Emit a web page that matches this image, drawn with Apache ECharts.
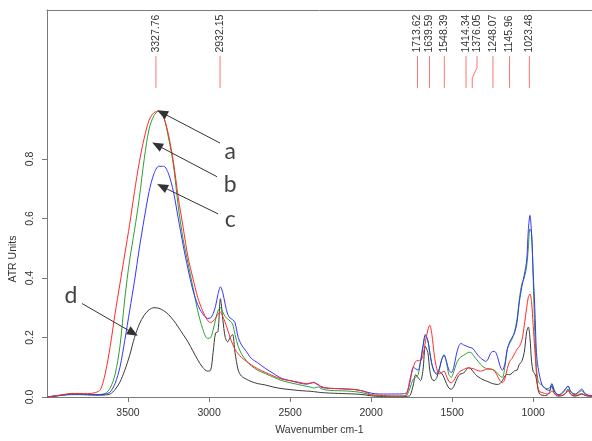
<!DOCTYPE html>
<html><head><meta charset="utf-8">
<script src="https://cdn.jsdelivr.net/npm/echarts@6/dist/echarts.min.js"></script>
<style>html,body{margin:0;padding:0;background:#fff}#c{width:592px;height:441px}</style>
</head><body><div id="c"></div>
<script>
// ---- data ----
const wavenumbers = [
  4000,3950,3900,3850,3800,3750,3700,3670,3640,3610,3580,3550,3520,3490,3460,3430,3400,3370,3340,3310,3280,3250,3220,3190,3160,3130,3100,3070,3040,3010,
  2990,2975,2960,2945,2930,2915,2900,2885,2870,2855,2840,2820,2800,2770,2740,2700,2650,2600,2550,2500,2450,2400,2370,2355,2340,2325,2310,2280,2250,2200,2150,2100,2050,2000,
  1950,1900,1850,1800,1780,1760,1740,1725,1710,1695,1680,1665,1650,1638,1625,1610,1595,1580,1565,1550,1535,1520,1505,1490,1475,1460,1445,1430,1415,1400,1385,1370,1355,1340,1325,1310,1295,1280,1265,1250,1235,1220,1205,1190,1175,1160,1145,1130,1115,1100,1085,1070,1055,1040,1030,1020,1010,
  1000,990,980,970,960,945,930,915,900,885,870,855,840,820,800,785,770,755,740,720,700,680,660,640,620,600
];
const seriesA = [
  0,.004,.008,.012,.012,.011,.015,.025,.08,.17,.28,.38,.48,.58,.69,.79,.87,.93,.955,.96,.94,.88,.79,.67,.57,.47,.40,.335,.29,.258,
  .25,.255,.265,.278,.285,.27,.25,.225,.2,.178,.16,.145,.133,.12,.108,.095,.082,.07,.06,.055,.05,.045,.047,.048,.045,.042,.036,.031,.029,.028,.026,.025,.02,.008,
  .006,.004,.003,.004,.01,.06,.1,.12,.122,.122,.14,.185,.225,.241,.21,.14,.095,.078,.082,.087,.07,.052,.048,.055,.07,.082,.088,.092,.096,.098,.097,.095,.092,.088,.087,.089,.092,.094,.094,.092,.085,.07,.055,.048,.06,.095,.12,.13,.145,.16,.17,.19,.24,.3,.335,.346,.32,
  .24,.16,.08,.03,.018,.015,.012,.01,.012,.02,.012,.008,.005,.006,.012,.021,.012,.006,.005,.008,.012,.006,.004,.003,.004,.003
];
const seriesB = [
  0,.004,.007,.01,.01,.009,.008,.009,.012,.03,.076,.17,.33,.46,.56,.67,.80,.9,.945,.96,.94,.87,.78,.64,.53,.45,.37,.29,.23,.197,
  .2,.225,.26,.29,.30,.285,.27,.262,.255,.245,.21,.17,.145,.122,.105,.09,.078,.066,.055,.048,.042,.036,.033,.03,.032,.034,.028,.024,.022,.021,.02,.018,.014,.006,
  .004,.003,.003,.003,.006,.03,.06,.066,.075,.12,.17,.205,.19,.15,.11,.085,.08,.095,.125,.14,.115,.075,.066,.085,.11,.127,.135,.14,.145,.15,.15,.14,.13,.12,.11,.102,.097,.095,.094,.092,.088,.08,.07,.066,.1,.16,.18,.195,.22,.26,.33,.38,.40,.44,.5,.565,.55,
  .4,.22,.1,.055,.045,.04,.032,.028,.03,.043,.025,.01,.008,.012,.025,.037,.02,.01,.008,.015,.021,.01,.006,.005,.004,.003
];
const seriesC = [
  0,.003,.007,.01,.01,.009,.008,.008,.01,.017,.045,.1,.19,.29,.39,.5,.6,.69,.75,.775,.775,.75,.69,.6,.51,.43,.36,.31,.28,.264,
  .266,.28,.305,.345,.37,.35,.31,.278,.265,.26,.25,.2,.175,.153,.13,.115,.095,.078,.062,.055,.048,.043,.047,.05,.045,.04,.033,.03,.029,.028,.027,.025,.02,.013,
  .01,.01,.01,.011,.015,.05,.1,.095,.09,.12,.17,.21,.19,.15,.11,.085,.076,.09,.125,.142,.12,.09,.082,.1,.14,.17,.18,.175,.172,.168,.166,.162,.15,.14,.131,.125,.12,.125,.145,.153,.152,.135,.105,.09,.11,.16,.185,.2,.215,.25,.32,.37,.41,.46,.56,.61,.55,
  .42,.3,.15,.1,.07,.04,.03,.024,.022,.045,.02,.01,.008,.015,.028,.037,.02,.012,.01,.018,.026,.012,.006,.005,.004,.003
];
const seriesD = [
  0,.003,.006,.008,.008,.007,.006,.006,.007,.01,.025,.05,.09,.14,.2,.245,.275,.293,.3,.298,.29,.277,.258,.235,.21,.185,.155,.125,.1,.087,
  .09,.15,.215,.22,.33,.26,.2,.185,.2,.21,.15,.09,.07,.06,.052,.045,.04,.033,.028,.025,.022,.02,.019,.018,.017,.016,.015,.014,.013,.012,.011,.01,.008,.004,
  .002,.001,.001,.001,.002,.005,.04,.075,.065,.055,.09,.17,.15,.09,.06,.055,.065,.085,.08,.065,.045,.03,.026,.035,.055,.072,.078,.08,.09,.098,.095,.085,.075,.068,.063,.058,.055,.052,.048,.045,.043,.042,.045,.055,.07,.076,.075,.08,.088,.09,.11,.12,.15,.22,.235,.2,.12,
  .085,.078,.06,.025,.01,.006,.005,.006,.015,.037,.012,.004,.003,.005,.012,.026,.01,.004,.003,.006,.01,.005,.003,.002,.002,.002
];
const peakPositions = [3327.76, 2932.15, 1713.62, 1639.59, 1548.39, 1414.34, 1376.05, 1248.07, 1145.96, 1023.48];
const peakLabels = ['3327.76','2932.15','1713.62','1639.59','1548.39','1414.34','1376.05','1248.07','1145.96','1023.48'];
const xTicks = [3500, 3000, 2500, 2000, 1500, 1000];
const yTicks = [0, 0.2, 0.4, 0.6, 0.8];
const annotNames = ['a', 'b', 'c', 'd'];
const arrowTips = [[3290, 0.955], [3321, 0.846], [3290, 0.707], [3469, 0.215]];
const arrowTails = [[2932, 0.853], [2951, 0.74], [2944, 0.615], [3784, 0.314]];
const annotPos = [[2870, 0.826], [2870, 0.714], [2870, 0.595], [3852, 0.34]];

// ---- chart ----
const FONT = '"Liberation Sans", Arial, sans-serif';
const FRAME = '#7a7a7a';
const chart = echarts.init(document.getElementById('c'), null, {renderer: 'canvas'});
const pair = vals => wavenumbers.map((w, i) => [w, vals[i]]);
const lineSeries = (name, vals, color, extra) => Object.assign({
  type: 'line', name, data: pair(vals), symbol: 'none', showSymbol: false, smooth: 0.3,
  lineStyle: {color, width: 1}, itemStyle: {color}, silent: true, z: 3
}, extra || {});

const option = {
  animation: false,
  grid: {left: 47, top: 10, right: 0, bottom: 38},
  xAxis: [{
    type: 'value', min: 637, max: 4000, inverse: true, position: 'bottom',
    axisLine: {show: true, onZero: false, lineStyle: {color: FRAME, width: 1}}, splitLine: {show: false},
    axisTick: {show: true, customValues: xTicks, length: 5, lineStyle: {color: FRAME}},
    axisLabel: {customValues: xTicks, margin: 11, color: '#333', fontFamily: FONT, fontSize: 10.5, formatter: v => String(v)},
    name: 'Wavenumber cm-1', nameLocation: 'middle', nameGap: 28,
    nameTextStyle: {color: '#333', fontFamily: FONT, fontSize: 10.5}
  }, {
    type: 'value', min: 637, max: 4000, inverse: true, position: 'top',
    axisLine: {show: true, onZero: false, lineStyle: {color: FRAME, width: 1}},
    axisTick: {show: false}, axisLabel: {show: false}, splitLine: {show: false}
  }],
  yAxis: {
    type: 'value', min: 0, max: 1.3,
    axisLine: {show: true, onZero: false, lineStyle: {color: FRAME, width: 1}}, splitLine: {show: false},
    axisTick: {show: true, customValues: yTicks, length: 5, lineStyle: {color: FRAME}},
    axisLabel: {customValues: yTicks, rotate: 90, margin: 11, color: '#333', fontFamily: FONT, fontSize: 10.5,
      formatter: v => Number(v).toFixed(1)}
  },
  graphic: [{
    type: 'text', x: 13, y: 259, rotation: Math.PI / 2,
    style: {text: 'ATR Units', align: 'center', verticalAlign: 'middle', fill: '#333', fontFamily: FONT, fontSize: 10.5}
  }],
  series: [
    lineSeries('d', seriesD, '#3a3a3a', {
      markLine: {
        silent: true, animation: false, symbol: ['none', 'triangle'], symbolSize: [9, 11],
        lineStyle: {color: '#333', width: 1, type: 'solid'}, label: {show: false},
        data: arrowTips.map((t, i) => [{coord: arrowTails[i]}, {coord: t}])
      }
    }),
    lineSeries('b', seriesB, '#2ea02e'),
    lineSeries('c', seriesC, '#3535ff'),
    lineSeries('a', seriesA, '#ff2a2a'),
    {
      type: 'scatter', silent: true, symbolSize: 1, itemStyle: {color: 'rgba(0,0,0,0)'},
      data: annotPos.map((p, i) => [p[0], p[1], annotNames[i]]),
      label: {show: true, position: 'inside', formatter: p => p.value[2], color: '#111', fontFamily: 'Lato, "Open Sans", sans-serif', fontSize: 23},
      z: 6
    },
    {
      type: 'custom', silent: true, z: 5,
      data: peakPositions.map(w => [w, 1.04]),
      renderItem: (params, api) => {
        const i = params.dataIndex;
        const px = peakPositions.map(w => api.coord([w, 0])[0]);
        const lx = px.slice();
        for (let k = 1; k < lx.length; k++) { if (lx[k] - lx[k - 1] < 11) lx[k] = lx[k - 1] + 11; }
        const yv = v => api.coord([4000, v])[1];
        const pts = Math.abs(lx[i] - px[i]) < 0.01
          ? [[px[i], yv(1.145)], [px[i], yv(1.038)]]
          : [[lx[i], yv(1.145)], [lx[i], yv(1.107)], [px[i], yv(1.071)], [px[i], yv(1.038)]];
        return {type: 'group', children: [
          {type: 'polyline', shape: {points: pts}, style: {stroke: '#ff7272', lineWidth: 1, fill: null}},
          {type: 'text', x: lx[i], y: yv(1.157), rotation: Math.PI / 2,
            style: {text: peakLabels[i], align: 'left', verticalAlign: 'middle', fill: '#333', fontFamily: FONT, fontSize: 10.5}}
        ]};
      }
    }
  ]
};
chart.setOption(option);
</script>
</body></html>
